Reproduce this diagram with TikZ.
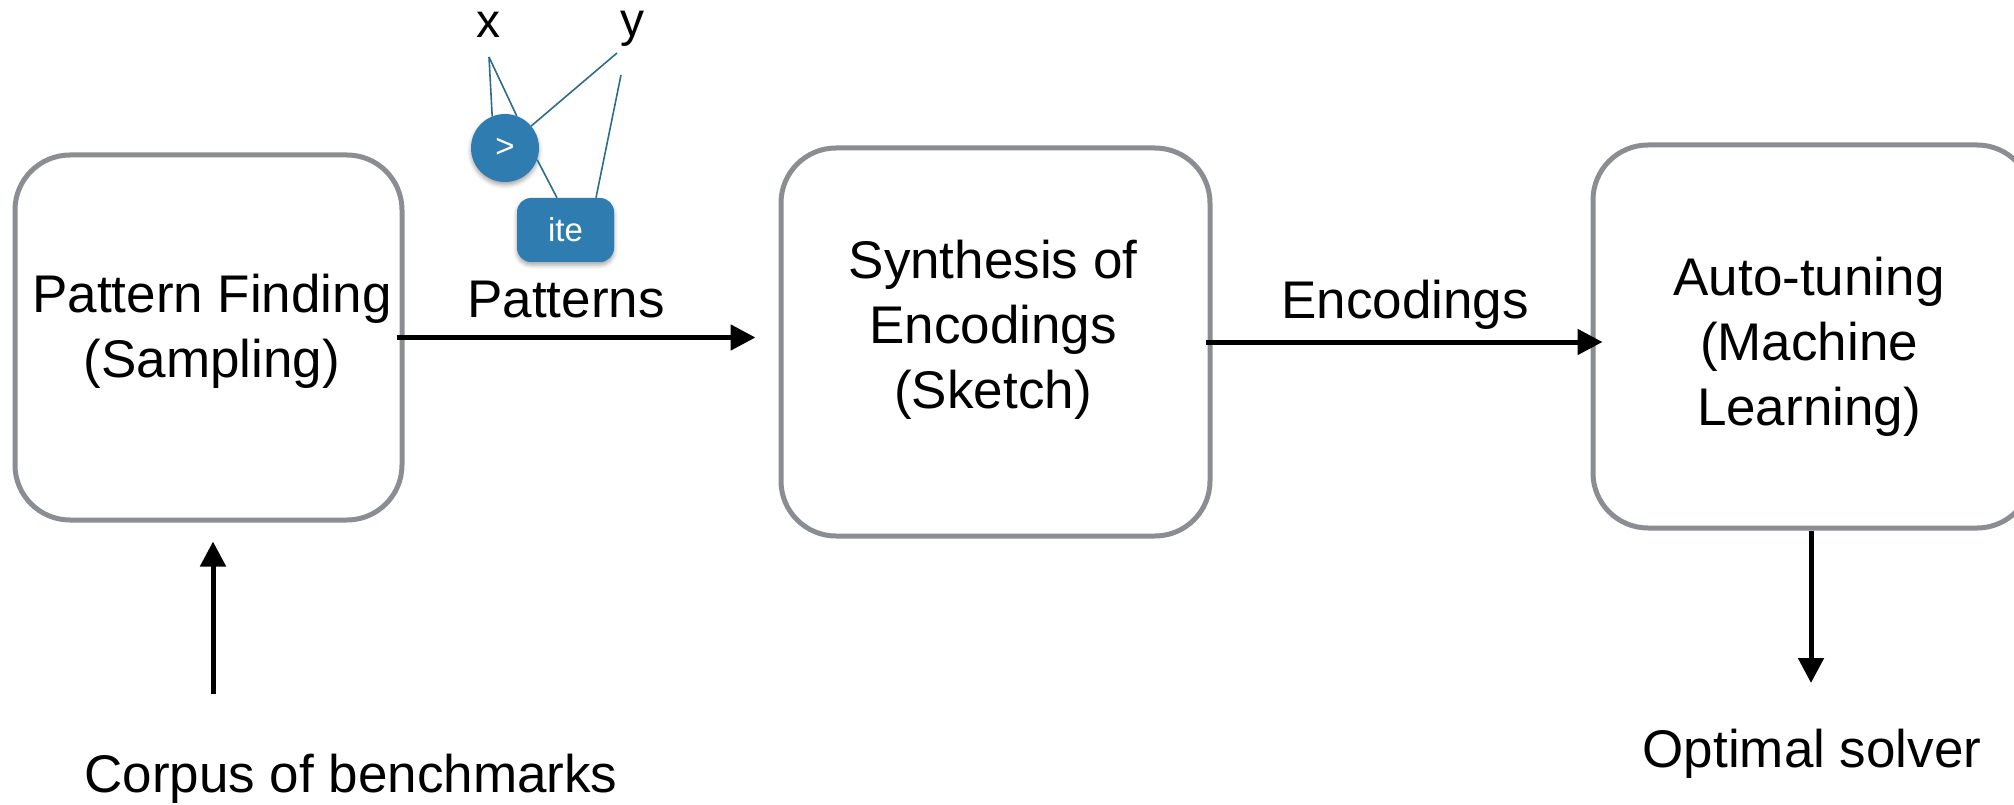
\documentclass[tikz,border=0pt]{standalone}
\usepackage{fontspec}
\setmainfont{Liberation Sans}
\usetikzlibrary{arrows.meta,calc,shadows.blur}
\definecolor{boxgray}{HTML}{8A8D91}
\definecolor{nodeblue}{HTML}{2F7CB1}
\definecolor{edgeblue}{HTML}{2D6C8A}
\begin{document}
\begin{tikzpicture}[x=1pt,y=-1pt,
  stage/.style={draw=boxgray,line width=5pt,rounded corners=55pt,fill=white},
  big/.style={font=\fontsize{53}{65}\selectfont,align=center,inner sep=0pt},
  arr/.style={line width=5pt,-{Triangle[length=25pt,width=25pt]}},
  tnode/.style={fill=nodeblue,text=white,font=\fontsize{33}{36}\selectfont,inner sep=0pt,
    blur shadow={shadow xshift=0pt,shadow yshift=-3pt,shadow blur radius=4pt,shadow opacity=35}},
  tedge/.style={draw=edgeblue,line width=1.6pt},
  var/.style={font=\fontsize{48}{50}\selectfont,anchor=base,inner sep=0pt},
]
\useasboundingbox (0,0) rectangle (2014,805);
\clip (0,0) rectangle (2014,805);

% pipeline stages
\node[stage,minimum width=387pt,minimum height=365pt] (b1) at (208.5,337.5) {};
\node[stage,minimum width=429pt,minimum height=388pt] (b2) at (995.5,342) {};
\node[stage,minimum width=439pt,minimum height=383pt] (b3) at (1812.5,336.5) {};

\node[big] (t1) at (212,331.5) {Pattern Finding\\(Sampling)};
\node[big] (t2) at (993,329.5) {Synthesis of\\Encodings\\(Sketch)};
\node[big] (t3) at (1809,347) {Auto-tuning\\(Machine\\Learning)};

% flow between stages
\draw[arr] ($(b1.east)+(-8,0)$) -- ($(b2.west |- b1.east)+(-23,0)$);
\draw[arr] ($(b2.east)+(-7,0)$) -- ($(b3.west |- b2.east)+(12,0)$);
\node[big,anchor=base] (lp) at (566,317) {Patterns};
\node[big,anchor=base] (le) at (1405,318) {Encodings};

% input and output
\coordinate (cs) at (213,694);
\draw[arr,shorten >=19pt] (cs) -- (cs |- b1.south);
\node[big,anchor=base] (corpus) at (351,792) {Corpus of benchmarks};
\coordinate (oe) at (1811,683);
\draw[arr] (b3.south -| oe) -- (oe);
\node[big,anchor=base] (solver) at (1812,767) {Optimal solver};

% example pattern: ite(x > y, ...)
\node[var] (vx) at (488,38) {x};
\node[var] (vy) at (632,37) {y};
\node[tnode,circle,minimum size=68pt] (gt) at (505,148) {>};
\node[tnode,rounded corners=14pt,minimum width=97pt,minimum height=64pt] (ite) at (565.5,230) {ite};
\coordinate (xa) at (489,57);
\coordinate (ya) at (617,53);
\coordinate (yb) at (621,75);
\draw[tedge] (xa) -- (gt.112);
\draw[tedge] (xa) -- (gt.70);
\draw[tedge] (ya) -- (gt.40);
\draw[tedge] (gt.-20) -- ([xshift=-8.5pt]ite.north);
\draw[tedge] (yb) -- ([xshift=30.5pt]ite.north);
\end{tikzpicture}
\end{document}
